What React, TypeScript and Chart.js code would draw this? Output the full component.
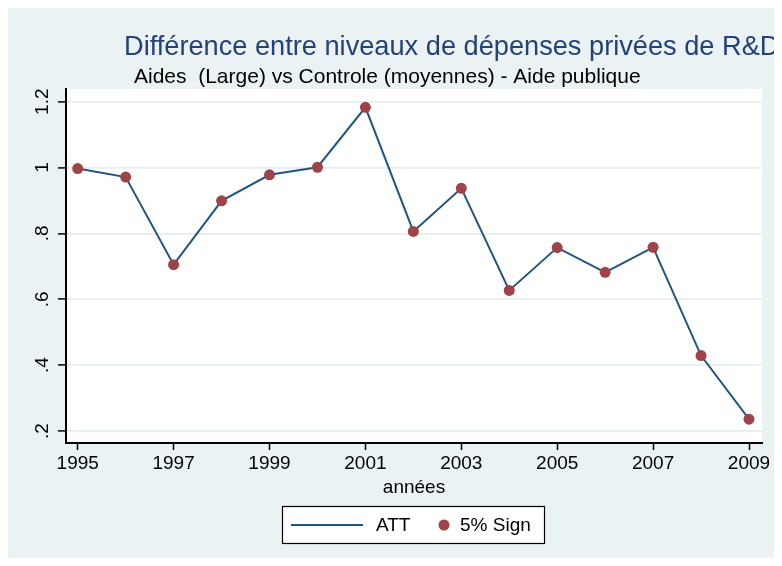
import React, { useEffect, useRef } from "react";
import { Chart, registerables } from "chart.js";

Chart.register(...registerables);

const years = [1995, 1996, 1997, 1998, 1999, 2000, 2001, 2002, 2003, 2004, 2005, 2006, 2007, 2008, 2009];
const attValues = [0.997, 0.971, 0.705, 0.899, 0.978, 1.001, 1.183, 0.806, 0.937, 0.627, 0.757, 0.682, 0.758, 0.429, 0.236];
const signValues = [0.997, 0.971, 0.705, 0.899, 0.978, 1.001, 1.183, 0.806, 0.937, 0.627, 0.757, 0.682, 0.758, 0.429, 0.236];
const xTickValues = [1995, 1997, 1999, 2001, 2003, 2005, 2007, 2009];
const yTickValues = [0.2, 0.4, 0.6, 0.8, 1.0, 1.2];
const yTickLabels = [".2", ".4", ".6", ".8", "1", "1.2"];

const titleText = "Différence entre niveaux de dépenses privées de R&D";
const subtitleText = "Aides  (Large) vs Controle (moyennes) - Aide publique";
const xTitle = "années";
const seriesNames = ["ATT", "5% Sign"];

const FONT = "'Liberation Sans', Arial, Helvetica, sans-serif";
const BG = "#EAF2F3";
const NAVY = "#215683";
const MAROON = "#9E4449";
const TITLE_COLOR = "#24427A";

const stataPlugin = {
  id: "stataDecor",
  beforeDraw(chart: any) {
    const { ctx, chartArea: a, width, height } = chart;
    ctx.save();
    ctx.fillStyle = BG;
    ctx.fillRect(0, 0, width, height);
    ctx.fillStyle = "#ffffff";
    ctx.fillRect(a.left, a.top, a.right - a.left, a.bottom - a.top);
    ctx.restore();
  },
  afterDraw(chart: any) {
    const { ctx } = chart;
    ctx.save();
    ctx.textBaseline = "alphabetic";
    ctx.textAlign = "left";
    ctx.fillStyle = TITLE_COLOR;
    ctx.font = `27.2px ${FONT}`;
    ctx.fillText(titleText, 116, 47);
    ctx.fillStyle = "#000000";
    ctx.font = `21px ${FONT}`;
    ctx.fillText(subtitleText, 126, 75);

    const lx = 274, ly = 498, lw = 262, lh = 37;
    ctx.fillStyle = "#ffffff";
    ctx.fillRect(lx, ly, lw, lh);
    ctx.strokeStyle = "#000000";
    ctx.lineWidth = 1.2;
    ctx.strokeRect(lx + 0.5, ly + 0.5, lw, lh);
    const cy = ly + 19;
    ctx.strokeStyle = NAVY;
    ctx.lineWidth = 2;
    ctx.beginPath();
    ctx.moveTo(lx + 9, cy);
    ctx.lineTo(lx + 81, cy);
    ctx.stroke();
    ctx.fillStyle = "#000000";
    ctx.font = `19px ${FONT}`;
    ctx.textBaseline = "middle";
    ctx.fillText(seriesNames[0], lx + 94, cy + 1);
    ctx.fillStyle = MAROON;
    ctx.beginPath();
    ctx.arc(lx + 162, cy, 5.5, 0, Math.PI * 2);
    ctx.fill();
    ctx.fillStyle = "#000000";
    ctx.fillText(seriesNames[1], lx + 178, cy + 1);
    ctx.restore();
  },
};

export default function App() {
  const canvasRef = useRef<HTMLCanvasElement | null>(null);

  useEffect(() => {
    document.documentElement.style.overflow = "hidden";
    document.body.style.overflow = "hidden";
    const canvas = canvasRef.current;
    if (!canvas) return;
    Chart.defaults.font.family = FONT;
    const chart = new Chart(canvas, {
      type: "line",
      data: {
        datasets: [
          {
            label: seriesNames[1],
            data: years.map((x, i) => ({ x, y: signValues[i] })),
            showLine: false,
            pointRadius: 5.5,
            pointHoverRadius: 5.5,
            pointBackgroundColor: MAROON,
            pointBorderColor: MAROON,
            pointBorderWidth: 0,
            backgroundColor: MAROON,
            borderColor: MAROON,
            order: 0,
          },
          {
            label: seriesNames[0],
            data: years.map((x, i) => ({ x, y: attValues[i] })),
            borderColor: NAVY,
            borderWidth: 2,
            pointRadius: 0,
            tension: 0,
            fill: false,
            order: 1,
          },
        ],
      },
      options: {
        animation: false,
        responsive: false,
        events: [],
        layout: { padding: { left: 0, top: 81, right: 20, bottom: 66.6 } },
        plugins: {
          legend: { display: false },
          title: { display: false },
          tooltip: { enabled: false },
        },
        scales: {
          x: {
            type: "linear",
            min: 1994.756,
            max: 2009.271,
            afterBuildTicks: (scale: any) => {
              scale.ticks = xTickValues.map((v) => ({ value: v }));
            },
            afterFit: (scale: any) => {
              scale.height = 56.4;
            },
            grid: {
              drawOnChartArea: false,
              drawTicks: true,
              tickLength: 7,
              tickColor: "#000000",
              tickWidth: 1.5,
            },
            border: { display: true, color: "#000000", width: 2 },
            ticks: {
              padding: 2,
              color: "#000000",
              font: { size: 19, family: FONT },
              maxRotation: 0,
              minRotation: 0,
              autoSkip: false,
              callback: (v: any) => String(v),
            },
            title: {
              display: true,
              text: xTitle,
              color: "#000000",
              font: { size: 19, family: FONT },
              padding: 0,
            },
          },
          y: {
            type: "linear",
            min: 0.1636,
            max: 1.2386,
            afterBuildTicks: (scale: any) => {
              scale.ticks = yTickValues.map((v) => ({ value: v }));
            },
            afterFit: (scale: any) => {
              scale.width = 58;
            },
            grid: {
              drawOnChartArea: true,
              color: "#E6EEF1",
              lineWidth: 1.8,
              drawTicks: true,
              tickLength: 8,
              tickColor: "#000000",
              tickWidth: 1.5,
            },
            border: { display: true, color: "#000000", width: 2 },
            ticks: {
              padding: 2,
              color: "#000000",
              font: { size: 19, family: FONT },
              minRotation: 90,
              maxRotation: 90,
              crossAlign: "center",
              autoSkip: false,
              callback: (v: any) => {
                const idx = yTickValues.findIndex((t) => Math.abs(t - Number(v)) < 1e-6);
                return idx >= 0 ? yTickLabels[idx] : "";
              },
            },
          },
        },
      },
      plugins: [stataPlugin],
    } as any);
    return () => chart.destroy();
  }, []);

  return (
    <div style={{ width: 774, height: 558, marginBottom: -8, background: BG }}>
      <canvas ref={canvasRef} width={774} height={558} style={{ display: "block" }} />
    </div>
  );
}
